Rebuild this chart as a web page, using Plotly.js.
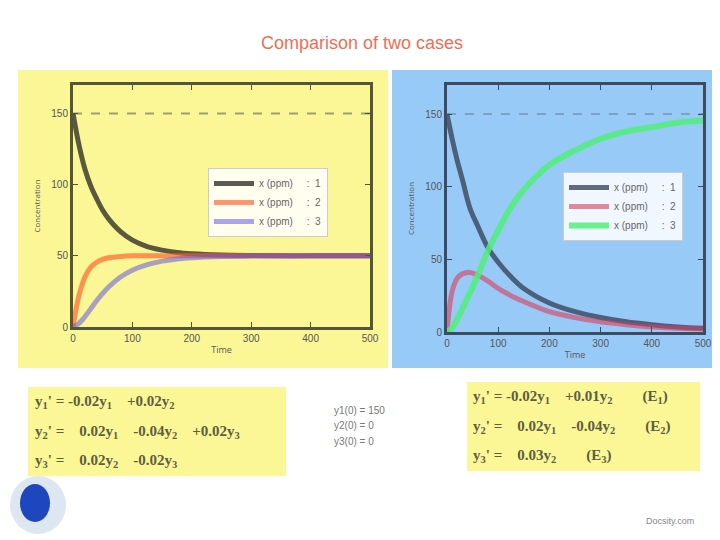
<!DOCTYPE html>
<html>
<head>
<meta charset="utf-8">
<script src="https://cdn.plot.ly/plotly-3.0.1.min.js"></script>
<style>html,body{margin:0;padding:0;background:#fff;}#chart{width:720px;height:540px;}</style>
</head>
<body>
<div id="chart"></div>
<script>
// ---- data ----
const tLeft   = [0, 10, 20, 30, 40, 50, 60, 80, 100, 125, 150, 175, 200, 250, 300, 400, 500];
const left1   = [150, 128, 111, 99, 90, 82, 76, 67, 61, 56.5, 54, 52.3, 51.4, 50.5, 50.2, 50, 50];
const left2   = [0, 22, 35, 42, 45.5, 47.5, 48.6, 49.6, 50, 50, 50, 50, 50, 50, 50, 50, 50];
const left3   = [0, 2.5, 7.2, 12.9, 18.6, 23.6, 28.1, 35.1, 39.9, 43.8, 46.3, 47.7, 48.6, 49.5, 49.8, 50, 50];

const tRight  = [0, 10, 20, 30, 45, 60, 80, 100, 125, 150, 200, 250, 300, 350, 400, 450, 500];
const right1  = [150, 133, 118, 105, 85, 73, 58, 48, 38, 30, 20, 14, 10, 7, 5, 3.5, 2.5];
const right2  = [0, 28, 37, 40, 41, 39, 35, 30, 25, 21, 14, 10, 7, 5, 3.5, 2.5, 2];
const right3  = [0, 3, 9, 16, 27, 39, 56, 70, 86, 98, 115, 125, 133, 138, 141, 144, 145.5];

const refLevel = [150, 150];
const refT     = [0, 500];
const xTicks   = [0, 100, 200, 300, 400, 500];
const yTicks   = [0, 50, 100, 150];
const seriesNames = ['x (ppm)\u00a0\u00a0\u00a0\u00a0\u00a0:\u00a0\u00a01', 'x (ppm)\u00a0\u00a0\u00a0\u00a0\u00a0:\u00a0\u00a02', 'x (ppm)\u00a0\u00a0\u00a0\u00a0\u00a0:\u00a0\u00a03'];

const titleText = 'Comparison of two cases';
const S = '\u00a0';
const G = S + S + S + S;
const eqLeft = [
  "y<sub>1</sub>'" + S + "=" + S + "-0.02y<sub>1</sub>" + G + "+0.02y<sub>2</sub>",
  "y<sub>2</sub>'" + S + "=" + G + "0.02y<sub>1</sub>" + G + "-0.04y<sub>2</sub>" + G + "+0.02y<sub>3</sub>",
  "y<sub>3</sub>'" + S + "=" + G + "0.02y<sub>2</sub>" + G + "-0.02y<sub>3</sub>"
];
const eqRight = [
  "y<sub>1</sub>'" + S + "=" + S + "-0.02y<sub>1</sub>" + G + "+0.01y<sub>2</sub>" + G + G + "(E<sub>1</sub>)",
  "y<sub>2</sub>'" + S + "=" + G + "0.02y<sub>1</sub>" + G + "-0.04y<sub>2</sub>" + G + G + "(E<sub>2</sub>)",
  "y<sub>3</sub>'" + S + "=" + G + "0.03y<sub>2</sub>" + G + G + "(E<sub>3</sub>)"
];
const initConds = ["y1(0) = 150", "y2(0) = 0", "y3(0) = 0"];

// ---- helpers ----
const W = 720, H = 540;
const px = x => x / W;
const py = y => 1 - y / H;

const traces = [];
// left panel
traces.push({x: refT, y: refLevel, xaxis: 'x', yaxis: 'y', mode: 'lines', showlegend: false, hoverinfo: 'skip',
  line: {color: 'rgba(120,120,100,0.7)', width: 2, dash: 'dash'}});
traces.push({x: tLeft, y: left1, xaxis: 'x', yaxis: 'y', mode: 'lines', name: seriesNames[0], legend: 'legend',
  line: {color: 'rgba(50,50,40,0.8)', width: 5, shape: 'spline'}});
traces.push({x: tLeft, y: left2, xaxis: 'x', yaxis: 'y', mode: 'lines', name: seriesNames[1], legend: 'legend',
  line: {color: 'rgba(255,90,40,0.65)', width: 5, shape: 'spline'}});
traces.push({x: tLeft, y: left3, xaxis: 'x', yaxis: 'y', mode: 'lines', name: seriesNames[2], legend: 'legend',
  line: {color: 'rgba(100,90,230,0.55)', width: 5, shape: 'spline'}});
// right panel
traces.push({x: refT, y: refLevel, xaxis: 'x2', yaxis: 'y2', mode: 'lines', showlegend: false, hoverinfo: 'skip',
  line: {color: 'rgba(90,110,140,0.45)', width: 2, dash: 'dash'}});
traces.push({x: tRight, y: right1, xaxis: 'x2', yaxis: 'y2', mode: 'lines', name: seriesNames[0], legend: 'legend2',
  line: {color: 'rgba(50,60,80,0.75)', width: 5, shape: 'spline'}});
traces.push({x: tRight, y: right2, xaxis: 'x2', yaxis: 'y2', mode: 'lines', name: seriesNames[1], legend: 'legend2',
  line: {color: 'rgba(220,60,90,0.6)', width: 5, shape: 'spline'}});
traces.push({x: tRight, y: right3, xaxis: 'x2', yaxis: 'y2', mode: 'lines', name: seriesNames[2], legend: 'legend2',
  line: {color: 'rgba(80,240,120,0.85)', width: 6, shape: 'spline'}});

const tickFont = {family: 'Liberation Sans, Arial, sans-serif', size: 10, color: '#555'};
function xax(domain, color) {
  return {domain: domain, range: [0, 500], tickvals: xTicks, ticks: 'inside', ticklen: 5, tickcolor: color,
    showline: true, linecolor: color, linewidth: 3, mirror: 'allticks', showgrid: false, zeroline: false,
    tickfont: tickFont, title: {text: 'Time', font: {size: 9, color: '#555'}, standoff: 4}};
}
function yax(domain, color, anchor) {
  return {domain: domain, range: [0, 170], tickvals: yTicks, ticks: 'inside', ticklen: 5, tickcolor: color,
    showline: true, linecolor: color, linewidth: 3, mirror: 'allticks', showgrid: false, zeroline: false,
    anchor: anchor, tickfont: tickFont, title: {text: 'Concentration', font: {size: 8, color: '#555'}, standoff: 10}};
}

const yellow = 'rgb(251,246,150)';
const blue = 'rgb(152,202,248)';

const shapes = [
  {type: 'rect', xref: 'paper', yref: 'paper', x0: px(18), x1: px(388), y0: py(368), y1: py(70), fillcolor: yellow, line: {width: 0}, layer: 'below'},
  {type: 'rect', xref: 'paper', yref: 'paper', x0: px(392), x1: px(712), y0: py(368), y1: py(70), fillcolor: blue, line: {width: 0}, layer: 'below'},
  {type: 'rect', xref: 'paper', yref: 'paper', x0: px(28), x1: px(286), y0: py(476), y1: py(387), fillcolor: yellow, line: {width: 0}, layer: 'below'},
  {type: 'rect', xref: 'paper', yref: 'paper', x0: px(467), x1: px(700), y0: py(471), y1: py(382), fillcolor: yellow, line: {width: 0}, layer: 'below'},
  // logo
  {type: 'circle', xref: 'paper', yref: 'paper', x0: px(10), x1: px(66), y0: py(534), y1: py(476), fillcolor: 'rgb(222,230,242)', line: {width: 0}, layer: 'below'},
  {type: 'circle', xref: 'paper', yref: 'paper', x0: px(20), x1: px(50), y0: py(522), y1: py(484), fillcolor: 'rgb(30,70,190)', line: {width: 0}, layer: 'below'}
];

const annotations = [
  {text: titleText, xref: 'paper', yref: 'paper', x: px(362), y: py(43), xanchor: 'center', yanchor: 'middle', showarrow: false,
    font: {family: 'Liberation Sans, Arial, sans-serif', size: 18, color: 'rgb(238,110,85)'}},
  {text: 'Docsity.com', xref: 'paper', yref: 'paper', x: px(670), y: py(521), xanchor: 'center', yanchor: 'middle', showarrow: false,
    font: {family: 'Liberation Sans, Arial, sans-serif', size: 9, color: '#888'}}
];
const eqFont = {family: 'Liberation Serif, Times New Roman, serif', size: 15, color: '#5e5e40'};
const leftRows = [402, 432, 461];
eqLeft.forEach((t, i) => annotations.push({text: '<b>' + t + '</b>', xref: 'paper', yref: 'paper', x: px(33), y: py(leftRows[i]),
  xanchor: 'left', yanchor: 'middle', showarrow: false, font: eqFont}));
const rightRows = [397, 427, 456];
eqRight.forEach((t, i) => annotations.push({text: '<b>' + t + '</b>', xref: 'paper', yref: 'paper', x: px(471), y: py(rightRows[i]),
  xanchor: 'left', yanchor: 'middle', showarrow: false, font: eqFont}));
const icRows = [410, 425, 441];
initConds.forEach((t, i) => annotations.push({text: t, xref: 'paper', yref: 'paper', x: px(332), y: py(icRows[i]),
  xanchor: 'left', yanchor: 'middle', showarrow: false, font: {family: 'Liberation Sans, Arial, sans-serif', size: 10, color: '#777'}}));

const legendCommon = {bgcolor: 'rgba(255,255,255,0.85)', bordercolor: '#ccc', borderwidth: 1,
  font: {family: 'Liberation Sans, Arial, sans-serif', size: 10, color: '#666'}, xanchor: 'left', yanchor: 'top',
  tracegroupgap: 2, itemwidth: 40};

const layout = {
  width: W, height: H,
  margin: {l: 0, r: 0, t: 0, b: 0},
  paper_bgcolor: '#ffffff',
  plot_bgcolor: 'rgba(0,0,0,0)',
  showlegend: true,
  xaxis: Object.assign(xax([px(73), px(370)], '#55553a'), {anchor: 'y'}),
  yaxis: yax([py(327), py(85)], '#55553a', 'x'),
  xaxis2: Object.assign(xax([px(447), px(703)], '#3d4b60'), {anchor: 'y2'}),
  yaxis2: yax([py(332), py(85)], '#3d4b60', 'x2'),
  legend: Object.assign({x: px(208), y: py(168)}, legendCommon),
  legend2: Object.assign({x: px(563), y: py(172)}, legendCommon),
  shapes: shapes,
  annotations: annotations
};

Plotly.newPlot('chart', traces, layout, {displayModeBar: false, staticPlot: true});
</script>
</body>
</html>
